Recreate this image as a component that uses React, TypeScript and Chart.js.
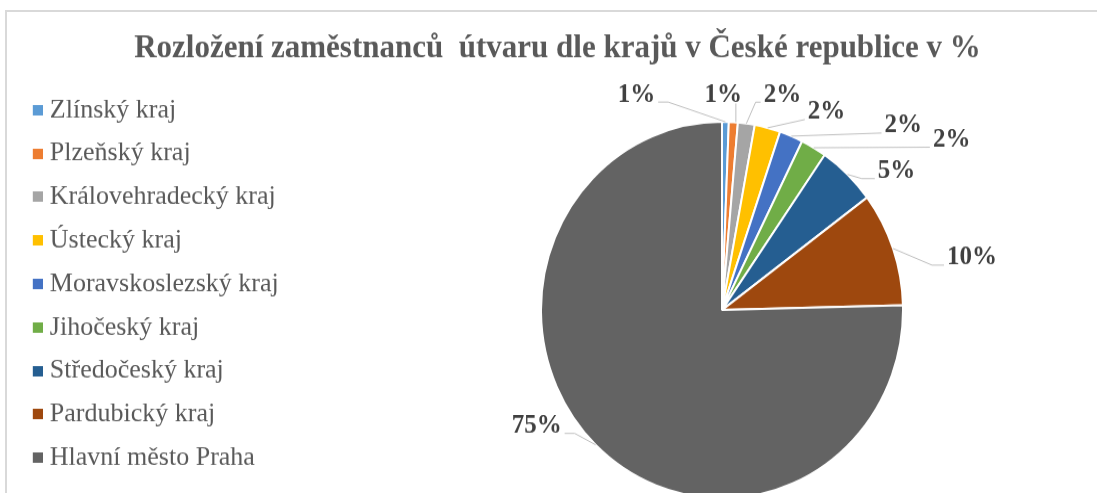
import React, { useEffect, useRef } from "react";
import { Chart, registerables } from "chart.js";

Chart.register(...registerables);

// ---- data ----
const TITLE = "Rozložení zaměstnanců  útvaru dle krajů v České republice v %";
const REGIONS = [
  "Zlínský kraj",
  "Plzeňský kraj",
  "Královehradecký kraj",
  "Ústecký kraj",
  "Moravskoslezský kraj",
  "Jihočeský kraj",
  "Středočeský kraj",
  "Pardubický kraj",
  "Hlavní město Praha",
];
const SHARES = [0.6, 0.8, 1.5, 2.3, 2.1, 2.3, 5.2, 9.8, 75.4];
const COLORS = [
  "#5B9BD5",
  "#ED7D31",
  "#A5A5A5",
  "#FFC000",
  "#4472C4",
  "#70AD47",
  "#255E91",
  "#9E480E",
  "#636363",
];

// label placement relative to the slice's outer mid-point: [dx, dy, side, elbow]
const LABEL_LAYOUT: [number, number, string, number][] = [
  [-89, -26, "right", 10],
  [-10, -26, "below", 0],
  [36, -27.5, "left", 5],
  [59, -15, "left", 0],
  [112, -10, "left", 0],
  [138, -7.5, "left", 0],
  [49, -3, "left", 13],
  [79, 9, "left", 12],
  [-59, -18, "right", 10],
];

const SERIF = '"Liberation Serif", "Times New Roman", serif';
const CANVAS_W = 1093;
const CANVAS_H = 474;
const LEFT_BLOCK = 329;
const STRETCH = 1.04;

const pieLabels = {
  id: "pieLabels",
  afterDatasetsDraw(chart: any) {
    const meta = chart.getDatasetMeta(0);
    const ctx = chart.ctx;
    const total = SHARES.reduce((a, b) => a + b, 0);
    ctx.save();
    ctx.font = `bold 25px ${SERIF}`;
    ctx.textAlign = "center";
    ctx.textBaseline = "middle";
    meta.data.forEach((arc: any, i: number) => {
      const p = arc.getProps(["x", "y", "startAngle", "endAngle", "outerRadius"], true);
      const mid = (p.startAngle + p.endAngle) / 2;
      const ex = p.x + Math.cos(mid) * p.outerRadius;
      const ey = p.y + Math.sin(mid) * p.outerRadius;
      const [dx, dy, side, elbow] = LABEL_LAYOUT[i];
      const cx = ex + dx;
      const cy = ey + dy;
      const text = Math.round((SHARES[i] / total) * 100) + "%";
      const w = ctx.measureText(text).width;
      ctx.strokeStyle = "#BFBFBF";
      ctx.lineWidth = 1;
      ctx.beginPath();
      if (side === "below") {
        ctx.moveTo(ex + 2.5, cy + 8);
        ctx.lineTo(ex + 2.5, ey);
      } else {
        const ax = side === "left" ? cx - w / 2 - 3 : cx + w / 2 + 3;
        const ay = cy + 7;
        const bx = side === "left" ? ax - elbow : ax + elbow;
        ctx.moveTo(ax, ay);
        ctx.lineTo(bx, ay);
        ctx.lineTo(ex, ey);
      }
      ctx.stroke();
      ctx.fillStyle = "#404040";
      ctx.fillText(text, cx, cy);
    });
    ctx.restore();
  },
};

function makeSwatch(color: string) {
  const c = document.createElement("canvas");
  c.width = 22;
  c.height = 10;
  const g = c.getContext("2d")!;
  g.fillStyle = color;
  g.fillRect(12, 0, 10, 10);
  return c;
}

export default function App() {
  const ref = useRef<HTMLCanvasElement | null>(null);

  useEffect(() => {
    if (!ref.current) return;
    const swatches = COLORS.map(makeSwatch);
    const chart = new Chart(ref.current, {
      type: "pie",
      data: {
        labels: REGIONS,
        datasets: [
          {
            data: SHARES,
            backgroundColor: COLORS,
            borderColor: "#FFFFFF",
            borderWidth: 2,
            radius: 181,
            clip: false,
          } as any,
        ],
      },
      options: {
        animation: false,
        responsive: false,
        maintainAspectRatio: false,
        devicePixelRatio: 1,
        events: [],
        layout: { padding: 0 },
        scales: {
          spacer: {
            type: "linear",
            position: "left",
            display: true,
            grid: { display: false, drawTicks: false },
            border: { display: false },
            ticks: { display: false },
            afterFit: (scale: any) => {
              const lw = scale.chart.legend ? scale.chart.legend.width : 0;
              scale.width = Math.max(0, LEFT_BLOCK - lw);
            },
          } as any,
        },
        plugins: {
          tooltip: { enabled: false },
          title: {
            display: true,
            text: TITLE,
            color: "#595959",
            font: { family: SERIF, size: 31, weight: "bold", lineHeight: 1.2 },
            padding: { top: 28.6, bottom: 56.4 },
          },
          legend: {
            display: true,
            position: "left",
            align: "start",
            fullSize: true,
            title: {
              display: true,
              text: "",
              font: { size: 10, lineHeight: 1 },
              padding: { top: 67, bottom: 0 },
            },
            labels: {
              usePointStyle: true,
              boxWidth: 10,
              boxHeight: 10,
              padding: 15.8,
              color: "#595959",
              font: { family: SERIF, size: 26 },
              generateLabels: () =>
                REGIONS.map((text, i) => ({
                  text,
                  fillStyle: COLORS[i],
                  strokeStyle: COLORS[i],
                  lineWidth: 0,
                  hidden: false,
                  index: i,
                  pointStyle: swatches[i],
                  fontColor: "#595959",
                })),
            },
          } as any,
        },
      },
      plugins: [pieLabels],
    });
    return () => chart.destroy();
  }, []);

  return (
    <div
      style={{
        position: "fixed",
        left: 0,
        top: 0,
        width: 1097,
        height: 493,
        overflow: "hidden",
        background: "#FFFFFF",
      }}
    >
      <div
        style={{
          position: "absolute",
          left: 5,
          top: 10,
          width: 1200,
          height: 600,
          border: "2px solid #D9D9D9",
          boxSizing: "border-box",
        }}
      />
      <canvas
        ref={ref}
        width={CANVAS_W}
        height={CANVAS_H}
        style={{
          position: "absolute",
          left: 11,
          top: 0,
          width: CANVAS_W,
          height: CANVAS_H,
          transform: `scaleY(${STRETCH})`,
          transformOrigin: "0 0",
        }}
      />
    </div>
  );
}
